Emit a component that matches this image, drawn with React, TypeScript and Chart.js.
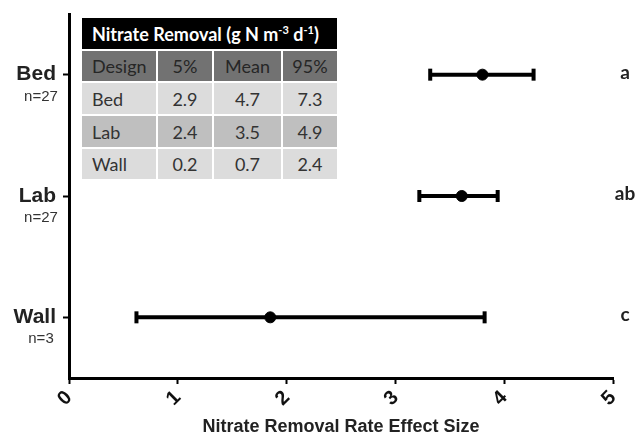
import React, { useEffect, useRef } from "react";
import { Chart, registerables } from "chart.js";

Chart.register(...registerables);

// ---- data ----
const designs = ["Bed", "Lab", "Wall"];
const sampleSizes = ["n=27", "n=27", "n=3"];
const lowValues = [3.32, 3.22, 0.62];
const meanValues = [3.8, 3.61, 1.85];
const highValues = [4.27, 3.94, 3.82];
const groupLetters = ["a", "ab", "c"];
const xTickValues = [0, 1, 2, 3, 4, 5];
const xAxisTitle = "Nitrate Removal Rate Effect Size";

const tableHeader = ["Design", "5%", "Mean", "95%"];
const tableDesigns = ["Bed", "Lab", "Wall"];
const table5 = ["2.9", "2.4", "0.2"];
const tableMean = ["4.7", "3.5", "0.7"];
const table95 = ["7.3", "4.9", "2.4"];

const yPos = (i: number) => designs.length - i;

const errorBarPlugin = {
  id: "errorBars",
  beforeDatasetsDraw(chart: any) {
    const { ctx, scales } = chart;
    const xs = scales.x;
    const ys = scales.y;
    ctx.save();
    ctx.strokeStyle = "#000";
    ctx.fillStyle = "#000";
    ctx.lineWidth = 4;
    designs.forEach((_, i) => {
      const y = ys.getPixelForValue(yPos(i));
      const x1 = xs.getPixelForValue(lowValues[i]);
      const x2 = xs.getPixelForValue(highValues[i]);
      ctx.beginPath();
      ctx.moveTo(x1, y);
      ctx.lineTo(x2, y);
      ctx.stroke();
      ctx.fillRect(x1 - 2, y - 6, 4, 12);
      ctx.fillRect(x2 - 2, y - 6, 4, 12);
    });
    ctx.restore();
  },
};

const labelPlugin = {
  id: "sideLabels",
  afterDraw(chart: any) {
    const { ctx, scales, chartArea } = chart;
    const ys = scales.y;
    ctx.save();
    designs.forEach((d, i) => {
      const y = ys.getPixelForValue(yPos(i));
      ctx.fillStyle = "#222";
      ctx.font = "bold 21px 'Liberation Sans', Arial, sans-serif";
      ctx.textAlign = "right";
      ctx.textBaseline = "middle";
      ctx.fillText(d, 56, y);
      ctx.font = "15px 'Liberation Sans', Arial, sans-serif";
      ctx.fillStyle = "#333";
      ctx.textAlign = "center";
      ctx.fillText(sampleSizes[i], 41, y + 22);
      ctx.font = "bold 19px Lato, sans-serif";
      ctx.fillStyle = "#222";
      ctx.textAlign = "center";
      ctx.fillText(groupLetters[i], chartArea.right + 12, y - 2);
    });
    ctx.restore();
  },
};

function InsetTable() {
  const cell: React.CSSProperties = {
    display: "flex",
    alignItems: "center",
    justifyContent: "center",
    fontFamily: "Lato, sans-serif",
    fontSize: 18,
    color: "#333",
  };
  const rowsBg = ["#dcdcdc", "#bfbfbf", "#dcdcdc"];
  const cols = [tableDesigns, table5, tableMean, table95];
  return (
    <div
      style={{
        position: "absolute",
        left: 82,
        top: 18,
        width: 255,
        display: "grid",
        gridTemplateColumns: "74px 54px 67px 54px",
        gridTemplateRows: "31px 30px 31px 31px 30px",
        columnGap: 2,
        rowGap: 2,
        background: "#fff",
      }}
    >
      <div
        style={{
          gridColumn: "1 / 5",
          background: "#000",
          color: "#fff",
          fontFamily: "Lato, sans-serif",
          fontWeight: "bold",
          fontSize: 18,
          display: "flex",
          alignItems: "center",
          paddingLeft: 10,
        }}
      >
        <span>
          Nitrate Removal (g N m<sup style={{ fontSize: 11 }}>-3</sup> d
          <sup style={{ fontSize: 11 }}>-1</sup>)
        </span>
      </div>
      {tableHeader.map((h, c) => (
        <div
          key={"h" + c}
          style={{
            ...cell,
            background: "#727272",
            color: "#262626",
            justifyContent: c === 0 ? "flex-start" : "center",
            paddingLeft: c === 0 ? 10 : 0,
          }}
        >
          {h}
        </div>
      ))}
      {tableDesigns.map((_, r) =>
        cols.map((col, c) => (
          <div
            key={r + "-" + c}
            style={{
              ...cell,
              background: rowsBg[r],
              justifyContent: c === 0 ? "flex-start" : "center",
              paddingLeft: c === 0 ? 10 : 0,
            }}
          >
            {col[r]}
          </div>
        ))
      )}
    </div>
  );
}

export default function App() {
  const ref = useRef<HTMLCanvasElement>(null);
  useEffect(() => {
    if (!ref.current) return;
    const chart = new Chart(ref.current, {
      type: "scatter",
      data: {
        datasets: [
          {
            data: meanValues.map((m, i) => ({ x: m, y: yPos(i) })),
            pointRadius: 5.5,
            pointHoverRadius: 5.5,
            backgroundColor: "#000",
            borderColor: "#000",
          },
        ],
      },
      options: {
        animation: false,
        responsive: false,
        devicePixelRatio: 1,
        layout: { padding: { top: 14, right: 30, left: 0, bottom: 0 } },
        plugins: { legend: { display: false }, tooltip: { enabled: false } },
        scales: {
          x: {
            type: "linear",
            min: 0,
            max: 5,
            afterBuildTicks: (s: any) => {
              s.ticks = xTickValues.map((v) => ({ value: v }));
            },
            ticks: {
              minRotation: 45,
              maxRotation: 45,
              padding: 2,
              color: "#111",
              font: { family: "'Liberation Sans', Arial, sans-serif", size: 20, weight: "bold" },
            },
            grid: {
              drawOnChartArea: false,
              drawTicks: true,
              tickLength: 6,
              tickWidth: 2,
              color: "#000",
            },
            border: { display: true, color: "#000", width: 3 },
            title: {
              display: true,
              text: xAxisTitle,
              color: "#222",
              font: { family: "'Liberation Sans', Arial, sans-serif", size: 18, weight: "bold" },
              padding: { top: 2, bottom: 0 },
            },
            afterFit: (s: any) => {
              s.height = 60;
            },
          },
          y: {
            type: "linear",
            min: 0.5,
            max: 3.5,
            afterBuildTicks: (s: any) => {
              s.ticks = designs.map((_, i) => ({ value: yPos(i) }));
            },
            ticks: { display: false },
            grid: {
              drawOnChartArea: false,
              drawTicks: true,
              tickLength: 6,
              tickWidth: 2,
              color: "#000",
            },
            border: { display: true, color: "#000", width: 3 },
            afterFit: (s: any) => {
              s.width = 69;
            },
          },
        },
      } as any,
      plugins: [errorBarPlugin, labelPlugin],
    });
    return () => chart.destroy();
  }, []);
  return (
    <div
      style={{
        position: "fixed",
        left: 0,
        top: 0,
        width: 643,
        height: 438,
        background: "#fff",
        overflow: "hidden",
      }}
    >
      <canvas ref={ref} width={643} height={438} style={{ position: "absolute", left: 0, top: 0 }} />
      <InsetTable />
    </div>
  );
}
